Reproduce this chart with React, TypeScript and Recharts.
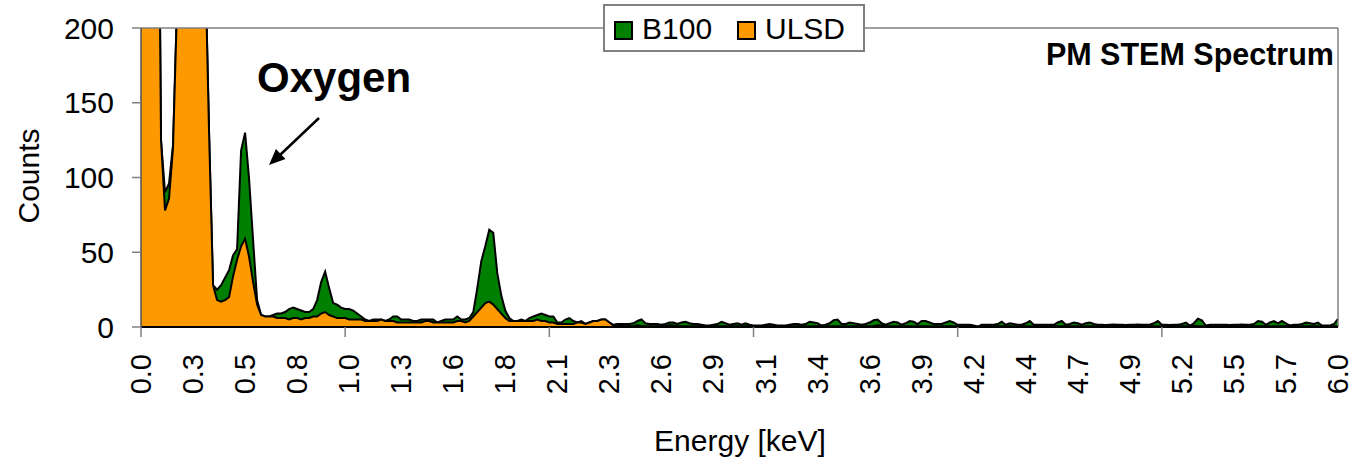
import { AreaChart, Area, XAxis, YAxis, Legend, ReferenceLine } from "recharts";

const FONT = '"Liberation Sans", Arial, sans-serif';

// 300 channels of 0.02 keV
const energies = Array.from({ length: 300 }, (_, i) => Number((i * 0.02).toFixed(2)));

// one label every 13 channels
const xTickLabels = [
  "0.0", "0.3", "0.5", "0.8", "1.0", "1.3", "1.6", "1.8", "2.1", "2.3", "2.6", "2.9",
  "3.1", "3.4", "3.6", "3.9", "4.2", "4.4", "4.7", "4.9", "5.2", "5.5", "5.7", "6.0",
];
const yTicks = [0, 50, 100, 150, 200];

const b100 = [
  850, 760, 640, 520, 440, 125, 90, 96, 122, 215,
  420, 780, 1150, 1400, 1450, 1100, 250, 130, 28, 25,
  28, 33, 38, 48, 52, 118, 130, 99, 58, 18,
  8, 7, 7, 8, 9, 9, 10, 12, 13, 12,
  11, 10, 10, 12, 18, 30, 37, 26, 16, 15,
  13, 12, 12, 11, 9, 7, 5, 4, 5, 5,
  5, 4, 5, 7, 7, 5, 5, 5, 4, 4,
  5, 5, 5, 5, 3, 4, 5, 5, 5, 7,
  5, 5, 6, 10, 26, 44, 54, 65, 63, 36,
  21, 11, 6, 4, 4, 5, 4, 6, 7, 8,
  9, 8, 7, 7, 3, 3, 5, 6, 4, 3,
  4, 2, 3, 4, 4, 5, 5, 3, 1.5, 2,
  2, 2, 2, 2.5, 4, 5, 2.5, 2, 2, 2,
  1.5, 2, 3, 3, 2, 3, 3.5, 2.5, 2, 2,
  1.5, 1, 1, 1.5, 2, 3.5, 2.5, 1.5, 2, 2.5,
  1.5, 2.5, 1.5, 1, 1, 1, 1.5, 2, 1.5, 1,
  1, 1, 1.5, 2, 2, 1.5, 2, 3.5, 3, 2.5,
  1, 1.5, 2.5, 4.5, 5, 2, 2, 3, 2.5, 2,
  1.5, 2, 3, 4.5, 5, 2.5, 1.5, 2.5, 3.5, 3,
  1.5, 2.5, 4, 3.5, 2, 4, 4, 3, 2, 2,
  2, 3, 4, 3, 1.5, 1.5, 1.5, 1.5, 1, 0.3,
  1.5, 1.5, 1.5, 1.5, 2, 3.5, 1.5, 2.5, 2, 1.5,
  1.5, 2.5, 4, 1.5, 1.5, 1.5, 1.5, 1.5, 1.5, 3,
  4, 1.5, 2, 3, 2.5, 1.5, 2.5, 3, 2, 1.5,
  1.5, 1.4, 1.5, 1.6, 1.5, 1.5, 1.4, 1.5, 1.5, 1.6,
  1.5, 1.5, 1.5, 2.5, 4, 1.5, 1.5, 1.4, 1.5, 1.5,
  2, 3, 1, 2.5, 5.5, 4.5, 1, 1.5, 1.5, 1.5,
  1.5, 1.5, 1.4, 1.5, 1.5, 1.6, 1.5, 1.5, 2, 4,
  3.5, 1.5, 3, 4, 2.5, 4, 2.5, 1, 1.5, 1.5,
  2, 3, 2.5, 2, 3, 1, 1, 1, 2, 5.5,
];

const ulsd = [
  850, 760, 640, 520, 440, 125, 78, 86, 120, 215,
  420, 780, 1150, 1400, 1450, 1100, 250, 130, 28, 18,
  17, 18, 20, 34, 45, 54, 59, 47, 30, 15,
  8, 7, 7, 7, 6, 6, 6, 5, 6, 6,
  5, 6, 6, 7, 7, 9, 10, 8, 7, 6,
  6, 6, 5, 5, 5, 5, 4, 4, 4, 4,
  5, 4, 4, 4, 3, 3, 3, 3, 3, 3,
  3, 4, 4, 3, 3, 3, 3, 3, 3, 4,
  4, 3, 4, 7, 10, 13, 16, 17, 15, 12,
  9, 6, 4, 4, 4, 4, 4, 4, 4, 5,
  4, 4, 3, 3, 2, 2, 2, 2, 2, 3,
  3, 2, 3, 4, 4, 5, 5, 3, 1, 0.5,
  1.2, 1, 0.5, 0.5, 1.2, 0.5, 0.5, 0.5, 0.5, 0.5,
  0.5, 0.5, 1.2, 1, 0.5, 0.5, 0.5, 0.5, 0.5, 0.5,
  0.5, 0.5, 0.5, 0.5, 0.5, 0.5, 0.5, 0.5, 0.5, 0.5,
  0.5, 0.5, 0.5, 0.5, 0.5, 0.5, 0.5, 0.5, 0.5, 0.5,
  0.5, 0.5, 0.5, 0.5, 0.5, 0.5, 0.5, 0.5, 0.5, 0.5,
  0.8, 0.5, 0.5, 0.5, 0.5, 0.5, 0.5, 0.5, 0.5, 0.5,
  0.5, 0.5, 0.5, 0.5, 1.2, 1, 0.5, 0.5, 0.5, 0.5,
  0.5, 0.5, 0.5, 0.5, 0.5, 0.5, 0.5, 0.5, 0.5, 0.5,
  0.5, 0.5, 0.5, 0.5, 0.5, 0.5, 0.5, 0.5, 0.3, 0.2,
  0.5, 0.5, 0.5, 0.5, 0.5, 0.5, 0.5, 0.5, 0.5, 0.5,
  0.5, 0.5, 0.5, 0.5, 0.5, 0.5, 0.5, 0.5, 0.5, 0.5,
  0.5, 0.5, 0.5, 0.5, 0.5, 0.5, 0.5, 0.5, 0.5, 0.5,
  0.5, 0.5, 0.5, 0.5, 0.5, 0.5, 0.5, 0.5, 0.5, 0.5,
  0.5, 0.5, 0.5, 0.5, 0.5, 0.5, 0.5, 0.5, 0.5, 0.5,
  0.5, 0.5, 0.8, 0.8, 0.5, 0.5, 0.5, 0.5, 0.5, 0.5,
  0.5, 0.5, 0.5, 0.5, 0.5, 0.5, 0.5, 0.5, 0.5, 0.5,
  0.5, 0.5, 0.5, 0.5, 0.5, 0.5, 0.5, 1, 0.5, 0.5,
  0.5, 0.5, 0.5, 0.5, 0.5, 0.5, 0.5, 0.5, 0.5, 0.5,
];

const series = [
  { key: "b100", name: "B100", fill: "#008000" },
  { key: "ulsd", name: "ULSD", fill: "#FF9900" },
];

const data = energies.map((e, i) => ({ energy: e, b100: b100[i], ulsd: ulsd[i] }));

// labels every 13th channel, tick marks every 51st
function EnergyTick(props: any) {
  const { x, y, index } = props;
  const label = index % 13 === 0 ? xTickLabels[index / 13] : null;
  const ly = y + 27;
  return (
    <g>
      {index % 51 === 0 && <line x1={x} x2={x} y1={y} y2={y + 10} stroke="#808080" strokeWidth={1.5} />}
      {label && (
        <text
          x={x}
          y={ly}
          transform={`rotate(-90 ${x} ${ly})`}
          textAnchor="end"
          dominantBaseline="central"
          fontSize={29}
          fontFamily={FONT}
          fill="#000"
        >
          {label}
        </text>
      )}
    </g>
  );
}

function LegendBox() {
  const pos = [
    { sq: 9, tx: 37 },
    { sq: 132, tx: 160 },
  ];
  return (
    <div
      style={{
        position: "relative",
        boxSizing: "border-box",
        width: 262,
        height: 48,
        border: "2px solid #808080",
        background: "#fff",
        fontFamily: FONT,
        fontSize: 30,
        color: "#000",
      }}
    >
      {series.map((s, i) => (
        <div key={s.key}>
          <div
            style={{
              position: "absolute",
              left: pos[i].sq,
              top: 15,
              width: 19,
              height: 19,
              boxSizing: "border-box",
              border: "2px solid #000",
              background: s.fill,
            }}
          />
          <div style={{ position: "absolute", left: pos[i].tx, top: 6, lineHeight: "34px", whiteSpace: "nowrap" }}>
            {s.name}
          </div>
        </div>
      ))}
    </div>
  );
}

export default function App() {
  return (
    <div style={{ position: "absolute", left: 0, top: 0, width: 1351, height: 459, background: "#fff" }}>
      <AreaChart width={1351} height={459} data={data} margin={{ top: 28, right: 13, left: 0, bottom: 0 }}>
        <XAxis
          dataKey="energy"
          height={132}
          interval={0}
          tickLine={false}
          tickSize={0}
          tickMargin={0}
          tick={<EnergyTick />}
          axisLine={{ stroke: "#000", strokeWidth: 2 }}
        />
        <YAxis
          width={141}
          domain={[0, 200]}
          ticks={yTicks}
          allowDataOverflow
          tickSize={9}
          tickMargin={18}
          tickLine={{ stroke: "#808080", strokeWidth: 1.5 }}
          axisLine={{ stroke: "#505050", strokeWidth: 1.5 }}
          tick={{ fontSize: 30, fontFamily: FONT, fill: "#000" }}
        />
        {series.map((s) => (
          <Area
            key={s.key}
            type="linear"
            dataKey={s.key}
            name={s.name}
            stroke="#000"
            strokeWidth={2}
            fill={s.fill}
            fillOpacity={1}
            dot={false}
            activeDot={false}
            isAnimationActive={false}
          />
        ))}
        <ReferenceLine y={200} stroke="#808080" strokeWidth={1.5} />
        <ReferenceLine x={energies[energies.length - 1]} stroke="#808080" strokeWidth={1.5} />
        <Legend
          layout="horizontal"
          verticalAlign="middle"
          align="center"
          content={<LegendBox />}
          wrapperStyle={{ left: 603, top: 4, width: 262, height: 48 }}
        />
      </AreaChart>
      <svg
        width={1351}
        height={459}
        style={{ position: "absolute", left: 0, top: 0, pointerEvents: "none" }}
        fontFamily={FONT}
      >
        <text x={28} y={176} transform="rotate(-90 28 176)" textAnchor="middle" dominantBaseline="central" fontSize={30}>
          Counts
        </text>
        <text x={740} y={451} textAnchor="middle" fontSize={30}>
          Energy [keV]
        </text>
        <text x={1334} y={65} textAnchor="end" fontSize={30.5} fontWeight="bold">
          PM STEM Spectrum
        </text>
        <text x={257} y={92} fontSize={42} fontWeight="bold">
          Oxygen
        </text>
        <line x1={319} y1={118} x2={280} y2={155} stroke="#000" strokeWidth={2.5} />
        <polygon points="269,165 285.5,159.1 275.9,148.9" fill="#000" />
      </svg>
    </div>
  );
}
